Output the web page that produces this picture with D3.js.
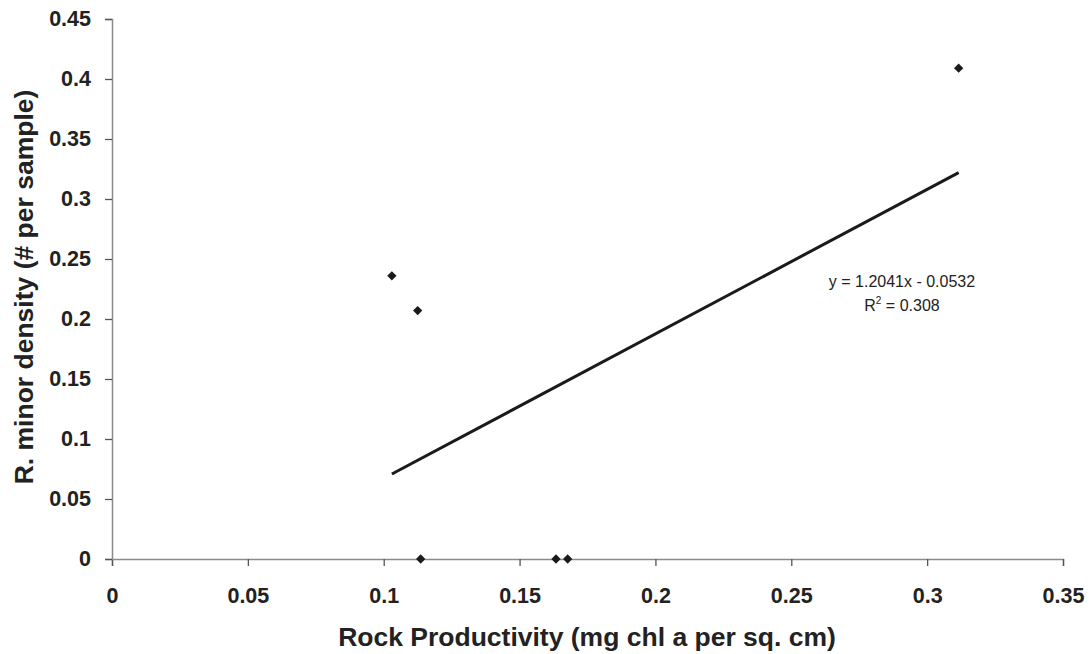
<!DOCTYPE html>
<html>
<head>
<meta charset="utf-8">
<script src="https://cdn.jsdelivr.net/npm/d3@7"></script>
<style>
  body { margin: 0; background: #fff; }
  svg { font-family: "Liberation Sans", Arial, sans-serif; }
  .tick-label { font-size: 21.5px; font-weight: bold; fill: #222; }
  .axis-title { font-size: 26.5px; font-weight: bold; fill: #222; }
  .eq { font-size: 16px; fill: #222; }
</style>
</head>
<body>
<svg width="1091" height="654"></svg>
<script>
// measured points
const productivity = [0.103, 0.1125, 0.1136, 0.1634, 0.1677, 0.3116];
const density = [0.236, 0.207, 0, 0, 0, 0.409];

// linear trendline as printed on the chart
const slope = 1.2041;
const intercept = -0.0532;
const eqLines = ["y = 1.2041x - 0.0532", "R", "2", " = 0.308"];

const xTicks = [0, 0.05, 0.1, 0.15, 0.2, 0.25, 0.3, 0.35];
const yTicks = [0, 0.05, 0.1, 0.15, 0.2, 0.25, 0.3, 0.35, 0.4, 0.45];

const svg = d3.select("svg");
const margin = { left: 112, top: 19, right: 1063, bottom: 559 };

const xScale = d3.scaleLinear().domain([0, 0.35]).range([margin.left, margin.right]);
const yScale = d3.scaleLinear().domain([0, 0.45]).range([margin.bottom, margin.top]);

// axes
const xAxis = svg.append("g")
    .attr("transform", `translate(0,${margin.bottom})`)
    .call(d3.axisBottom(xScale).tickValues(xTicks).tickSizeOuter(0).tickSize(7).tickFormat(d => d3.format("")(d)));
const yAxis = svg.append("g")
    .attr("transform", `translate(${margin.left},0)`)
    .call(d3.axisLeft(yScale).tickValues(yTicks).tickSizeOuter(0).tickSize(7).tickFormat(d => d3.format("")(d)));

[xAxis, yAxis].forEach(a => {
    a.select(".domain").attr("stroke", "#8a8a8a").attr("stroke-width", 1.5);
    a.selectAll(".tick line").attr("stroke", "#555").attr("stroke-width", 1.3);
    a.selectAll(".tick text").attr("class", "tick-label").attr("font-family", null).attr("font-size", null);
});
xAxis.selectAll(".tick text").attr("dy", null).attr("y", 44);
yAxis.selectAll(".tick text").attr("x", -21);

// trendline across the x-range of the data
const xMin = d3.min(productivity), xMax = d3.max(productivity);
svg.append("line")
    .attr("x1", xScale(xMin))
    .attr("y1", yScale(slope * xMin + intercept))
    .attr("x2", xScale(xMax))
    .attr("y2", yScale(slope * xMax + intercept))
    .attr("stroke", "#1a1a1a")
    .attr("stroke-width", 3);

// points (diamonds)
svg.selectAll(".pt")
    .data(productivity.map((x, i) => [x, density[i]]))
    .join("path")
    .attr("class", "pt")
    .attr("d", d3.symbol(d3.symbolDiamond2, 55))
    .attr("transform", d => `translate(${xScale(d[0])},${yScale(d[1])})`)
    .attr("fill", "#1a1a1a");

// equation label
svg.append("text").attr("class", "eq")
    .attr("x", 902).attr("y", 287).attr("text-anchor", "middle")
    .text(eqLines[0]);
const r2 = svg.append("text").attr("class", "eq")
    .attr("x", 902).attr("y", 311).attr("text-anchor", "middle");
r2.append("tspan").text(eqLines[1]);
r2.append("tspan").attr("dy", -7).attr("font-size", 10).text(eqLines[2]);
r2.append("tspan").attr("dy", 7).text(eqLines[3]);

// axis titles
svg.append("text").attr("class", "axis-title")
    .attr("x", 587).attr("y", 646)
    .attr("text-anchor", "middle")
    .text("Rock Productivity (mg chl a per sq. cm)");
svg.append("text").attr("class", "axis-title")
    .attr("transform", `translate(33,287) rotate(-90)`)
    .attr("text-anchor", "middle")
    .text("R. minor density (# per sample)");
</script>
</body>
</html>
